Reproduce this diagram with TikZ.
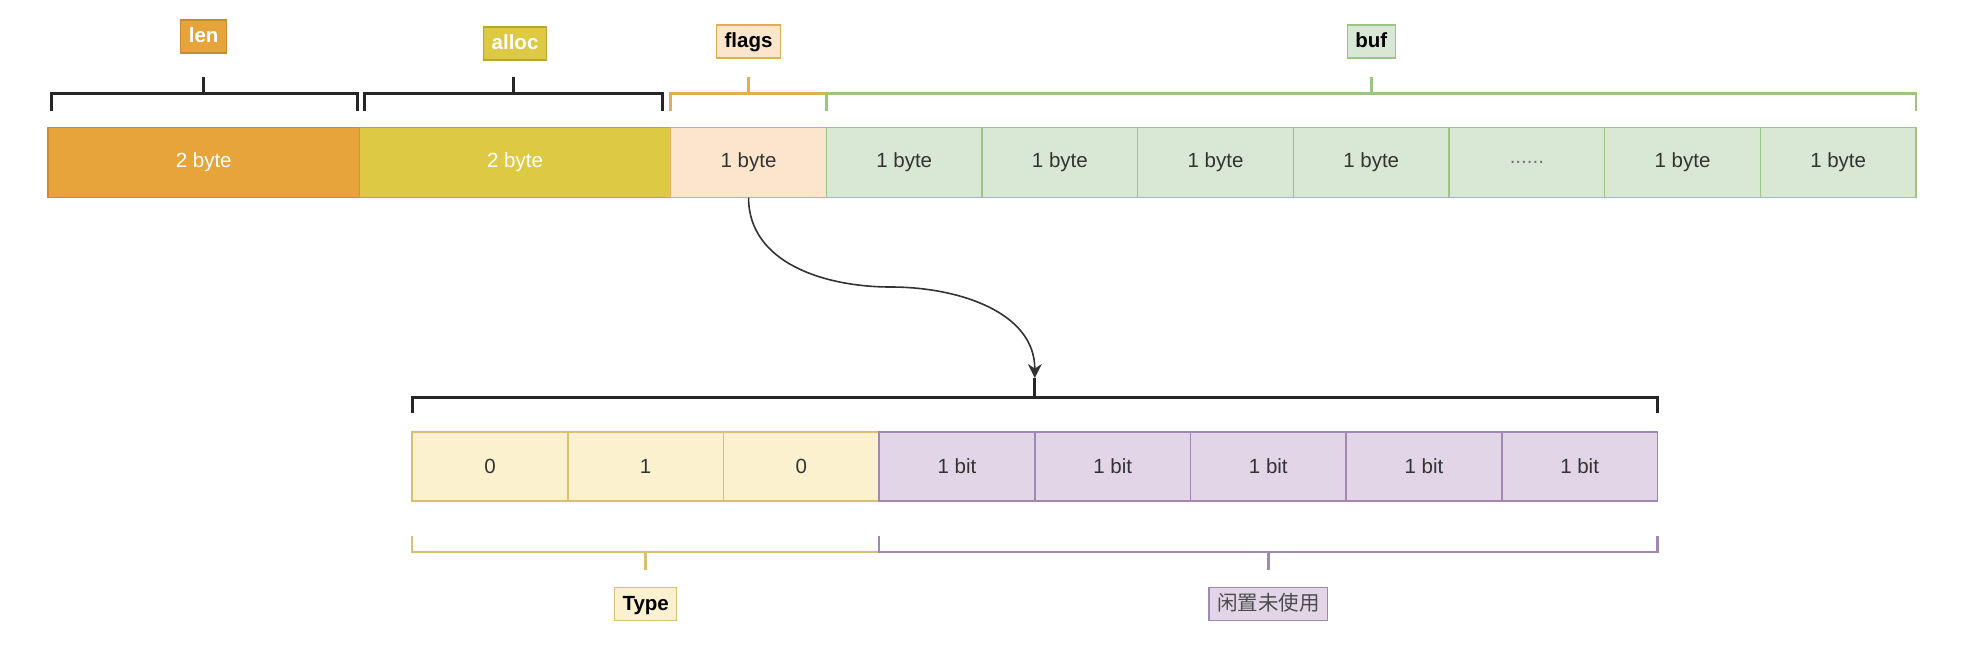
\documentclass[tikz,border=0pt]{standalone}
\usepackage{fontspec}
\setmainfont{Liberation Sans}
\newfontfamily\cjk{Noto Sans CJK SC}
\usepackage{tikz}
\usetikzlibrary{arrows.meta, positioning}

\definecolor{lenfill}{HTML}{E6A43B}
\definecolor{lenline}{HTML}{C98B2B}
\definecolor{allocfill}{HTML}{DDC943}
\definecolor{allocline}{HTML}{B9A52F}
\definecolor{flagsfill}{HTML}{FCE5CD}
\definecolor{flagsline}{HTML}{E2AE52}
\definecolor{buffill}{HTML}{D9E7D5}
\definecolor{bufline}{HTML}{9CC485}
\definecolor{typefill}{HTML}{FCF1CF}
\definecolor{typeline}{HTML}{D9C070}
\definecolor{idlefill}{HTML}{E1D5E7}
\definecolor{idleline}{HTML}{A188B3}

\begin{document}
\begin{tikzpicture}[x=0.5pt, y=-0.5pt,
    cell/.style={draw, line width=0.7pt, minimum width=77.83pt, minimum height=35pt,
        inner sep=0pt, outer sep=0pt, font=\fontsize{10.25}{12}\selectfont, text=black!80},
    bitcell/.style={cell, minimum height=34.5pt},
    tag/.style={draw, line width=0.6pt, minimum height=16.5pt, inner xsep=4pt, inner ysep=0pt,
        text height=7.6pt, text depth=1.4pt, font=\fontsize{10.25}{12}\selectfont\bfseries},
    brace/.style={line width=1.3pt}]
    \useasboundingbox (0,0) rectangle (1968,660);

    % sds header bytes
    \node[cell, minimum width=155.67pt, fill=lenfill, draw=lenline, text=white] (len) at (203.7,162.5) {2 byte};
    \node[cell, minimum width=155.67pt, right=0pt of len, fill=allocfill, draw=allocline, text=white] (alloc) {2 byte};
    \node[cell, right=0pt of alloc, fill=flagsfill, draw=flagsline] (flags) {1 byte};
    \node[cell, right=0pt of flags, fill=buffill, draw=bufline] (b1) {1 byte};
    \node[cell, right=0pt of b1, fill=buffill, draw=bufline] (b2) {1 byte};
    \node[cell, right=0pt of b2, fill=buffill, draw=bufline] (b3) {1 byte};
    \node[cell, right=0pt of b3, fill=buffill, draw=bufline] (b4) {1 byte};
    \node[cell, right=0pt of b4, fill=buffill, draw=bufline, text=black!55] (b5) {......};
    \node[cell, right=0pt of b5, fill=buffill, draw=bufline] (b6) {1 byte};
    \node[cell, right=0pt of b6, fill=buffill, draw=bufline] (b7) {1 byte};

    % brackets over the bytes
    \draw[brace, line width=1.5pt, black!85] ([xshift=1.5pt,yshift=8.5pt]len.north west) -- ++(0,8.5pt) -| ([xshift=-1pt,yshift=8.5pt]len.north east);
    \draw[brace, line width=1.5pt, black!85] ([yshift=17pt]len.north) -- ++(0,8.5pt);
    \draw[brace, line width=1.5pt, black!85] ([xshift=2.5pt,yshift=8.5pt]alloc.north west) -- ++(0,8.5pt) -| ([xshift=-4pt,yshift=8.5pt]alloc.north east);
    \draw[brace, line width=1.5pt, black!85] ([xshift=-0.75pt,yshift=17pt]alloc.north) -- ++(0,8.5pt);
    \draw[brace, flagsline] ([yshift=8.5pt]flags.north west) -- ++(0,8.5pt) -| ([yshift=8.5pt]flags.north east);
    \draw[brace, flagsline] ([yshift=17pt]flags.north) -- ++(0,8.5pt);
    \draw[brace, bufline] ([yshift=8.5pt]b1.north west) -- ++(0,8.5pt) -| ([yshift=8.5pt]b7.north east);
    \draw[brace, bufline] ([yshift=17pt]b4.north) -- ++(0,8.5pt);

    \node[tag, fill=lenfill, draw=lenline, text=white] (lenlbl) at ([yshift=45.5pt]len.north) {len};
    \node[tag, fill=allocfill, draw=allocline, text=white] (alloclbl) at ([yshift=42pt]alloc.north) {alloc};
    \node[tag, fill=flagsfill, draw=flagsline] (flagslbl) at ([yshift=43pt]flags.north) {flags};
    \node[tag, fill=buffill, draw=bufline] (buflbl) at ([yshift=43pt]b4.north) {buf};

    % flags bits
    \node[bitcell, fill=typefill, draw=typeline] (t0) at (490,466.5) {0};
    \node[bitcell, right=0pt of t0, fill=typefill, draw=typeline] (t1) {1};
    \node[bitcell, right=0pt of t1, fill=typefill, draw=typeline] (t2) {0};
    \node[bitcell, right=0pt of t2, fill=idlefill, draw=idleline] (u1) {1 bit};
    \node[bitcell, right=0pt of u1, fill=idlefill, draw=idleline] (u2) {1 bit};
    \node[bitcell, right=0pt of u2, fill=idlefill, draw=idleline] (u3) {1 bit};
    \node[bitcell, right=0pt of u3, fill=idlefill, draw=idleline] (u4) {1 bit};
    \node[bitcell, right=0pt of u4, fill=idlefill, draw=idleline] (u5) {1 bit};

    \draw[brace, line width=1.5pt, black!85] ([yshift=9.5pt]t0.north west) -- ++(0,8pt) -| ([yshift=9.5pt]u5.north east);
    \coordinate (tip) at ([yshift=27pt]u1.north east);
    \draw[brace, line width=1.5pt, black!85] ([yshift=17.5pt]u1.north east) -- (tip);
    \coordinate (bend) at (891,287);
    \draw[-{Stealth[length=7pt, width=7pt]}, line width=0.8pt, black!80] (flags.south) to[out=-90, in=180] (bend) to[out=0, in=90] (tip);

    \draw[brace, typeline] ([yshift=-17.5pt]t0.south west) -- ++(0,-8pt) -| ([yshift=-17.5pt]t2.south east);
    \draw[brace, typeline] ([yshift=-25.5pt]t1.south) -- ++(0,-9pt);
    \draw[brace, idleline] ([yshift=-17.5pt]u1.south west) -- ++(0,-8pt) -| ([yshift=-17.5pt]u5.south east);
    \draw[brace, idleline] ([yshift=-25.5pt]u3.south) -- ++(0,-9pt);

    \node[tag, fill=typefill, draw=typeline] (typelbl) at ([yshift=-51.5pt]t1.south) {Type};
    \node[tag, fill=idlefill, draw=idleline, font=\fontsize{10.25}{12}\cjk, text=black!70] (idlelbl) at ([yshift=-51.5pt]u3.south) {闲置未使用};
\end{tikzpicture}
\end{document}
